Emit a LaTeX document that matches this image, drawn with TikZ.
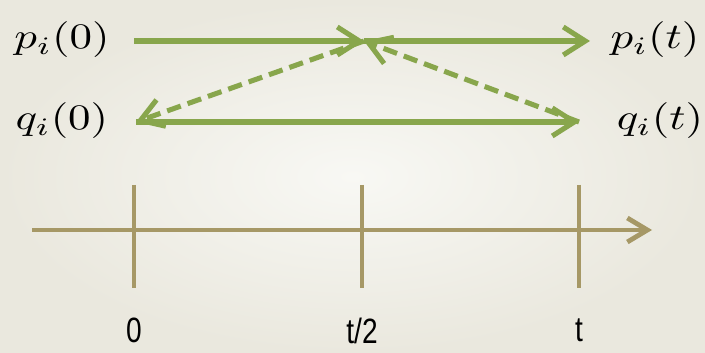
\documentclass[tikz,border=0pt]{standalone}
\usepackage{fontspec}
\newfontfamily\axisfont{Liberation Sans}
\usetikzlibrary{arrows.meta}
\definecolor{flowgreen}{RGB}{136,166,76}
\definecolor{axisolive}{RGB}{166,152,102}
\definecolor{bgin}{RGB}{248,248,244}
\definecolor{bgout}{RGB}{234,232,222}
\newcommand{\biglbl}[1]{\scalebox{3.2}[2.55]{#1}}
\newcommand{\timelbl}[1]{\scalebox{0.8}[1]{#1}}

\begin{document}
\begin{tikzpicture}[x=0.025cm,y=-0.025cm]
                \shade[inner color=bgin, outer color=bgout] (0,0) rectangle (705,353);
                \useasboundingbox (0,0) rectangle (705,353);
                \tikzset{
                    flow/.style={draw=flowgreen, line width=3.6pt, -{Straight Barb[length=5.5mm,width=7mm]}},
                    back/.style={flow, dash pattern=on 3.6mm off 1.8mm},
                    timeaxis/.style={draw=axisolive, line width=3.4pt},
                    lbl/.style={inner sep=0pt},
                    tlbl/.style={font=\axisfont\fontsize{25}{30}\selectfont, inner sep=0pt, anchor=north}
                }
                \node[lbl] (p0) at (62,40) {\biglbl{$p_i(0)$}};
                \node[lbl] (pt) at (655,40) {\biglbl{$p_i(t)$}};
                \node[lbl] (q0) at (62,121) {\biglbl{$q_i(0)$}};
                \node[lbl] (qt) at (660,121) {\biglbl{$q_i(t)$}};
                \coordinate (pa) at (134,41);
                \coordinate (pm) at (364,41);
                \coordinate (pb) at (590,41);
                \coordinate (qa) at (136,122);
                \coordinate (qb) at (579,122);
                \draw[flow] (pa) -- (pm);
                \draw[flow] (pm) -- (pb);
                \draw[flow] (qa) -- (qb);
                \draw[back] (pm) -- (qa);
                \draw[back] (qb) -- (pm);
                \coordinate (ta) at (32,230);
                \coordinate (tb) at (652,230);
                \draw[timeaxis, -{Straight Barb[length=5mm,width=6mm]}] (ta) -- (tb);
                \foreach \x/\name/\txt in {134/t0/0, 362/th/{t/2}, 579/tf/t} {
                    \draw[timeaxis] (\x,185) -- (\x,288);
                    \node[tlbl] (\name) at (\x,318) {\timelbl{\txt}};
                }
            \end{tikzpicture}
\end{document}
